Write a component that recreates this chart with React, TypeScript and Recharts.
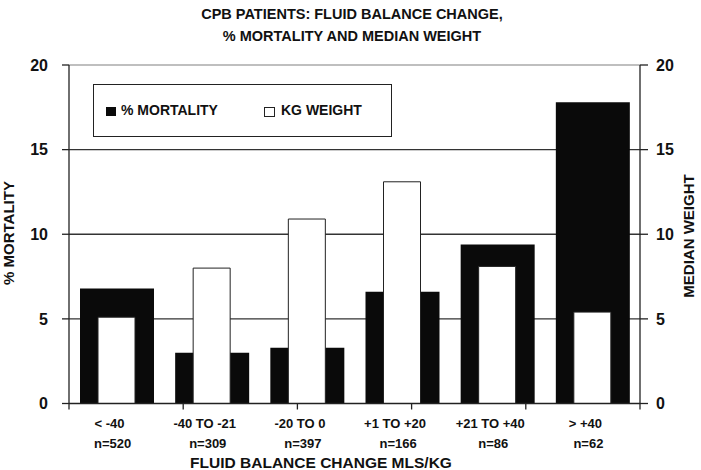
import React from 'react';
import { ComposedChart, Bar, XAxis, YAxis, CartesianGrid } from 'recharts';

const categories = ['< -40', '-40 TO -21', '-20 TO 0', '+1 TO +20', '+21 TO +40', '> +40'];
const counts = ['n=520', 'n=309', 'n=397', 'n=166', 'n=86', 'n=62'];
const mortality = [6.8, 3.0, 3.3, 6.6, 9.4, 17.8];
const weight = [5.1, 8.0, 10.9, 13.1, 8.1, 5.4];
const yTicks = [0, 5, 10, 15, 20];
const boundaryTicks = [0, 1, 2, 3, 4, 5, 6];

const data = categories.map((c, i) => ({ cat: c, n: counts[i], mortality: mortality[i], weight: weight[i] }));

const FONT = '"Liberation Sans", Arial, sans-serif';

const XTick = (props: any) => {
  const { x, y, payload, index } = props;
  return (
    <g>
      <text x={x - 7} y={y + 23} textAnchor="middle" fontFamily={FONT} fontWeight="bold" fontSize={13} fill="#111">
        {payload.value}
      </text>
      <text x={x - 4} y={y + 43} textAnchor="middle" fontFamily={FONT} fontWeight="bold" fontSize={13} fill="#111">
        {counts[index]}
      </text>
    </g>
  );
};

const BoundaryTick = (props: any) => {
  const { x, y } = props;
  return <line x1={x} x2={x} y1={y - 2} y2={y + 4} stroke="#222" strokeWidth={1.3} />;
};

export default function App() {
  const tickStyle = { fontFamily: FONT, fontWeight: 'bold' as const, fontSize: 16, fill: '#111' };
  return (
    <div style={{ position: 'absolute', left: 0, top: 0, width: 701, height: 470, background: '#fff', fontFamily: FONT }}>
      <div style={{ position: 'absolute', left: 0, top: 3, width: 704, textAlign: 'center', fontWeight: 'bold', fontSize: 14.5, lineHeight: '22px', color: '#111' }}>
        <div>CPB PATIENTS: FLUID BALANCE CHANGE,</div>
        <div>% MORTALITY AND MEDIAN WEIGHT</div>
      </div>
      <ComposedChart
        width={701}
        height={470}
        data={data}
        margin={{ top: 65, right: 0, bottom: 0, left: 0 }}
        barGap={0}
      >
        <CartesianGrid vertical={false} horizontalValues={[5, 10, 15]} stroke="#333" strokeWidth={1.3} />
        <CartesianGrid vertical={false} horizontalValues={[20]} stroke="#aaa" strokeWidth={1.3} />
        <XAxis
          type="number"
          domain={[0, 6]}
          ticks={boundaryTicks}
          height={1}
          axisLine={{ stroke: '#222', strokeWidth: 1.3 }}
          tickLine={false}
          tickSize={0}
          tickMargin={2}
          tick={BoundaryTick}
          interval={0}
          allowDataOverflow
        />
        <XAxis
          xAxisId="a"
          dataKey="cat"
          height={65.5}
          axisLine={false}
          tickLine={false}
          tickSize={0}
          tickMargin={0}
          tick={XTick}
          interval={0}
        />
        <XAxis xAxisId="b" dataKey="cat" hide />
        <YAxis
          width={69}
          domain={[0, 20]}
          ticks={yTicks}
          axisLine={{ stroke: '#222', strokeWidth: 1.3 }}
          tickLine={{ stroke: '#222', strokeWidth: 1.3 }}
          tickSize={7}
          tickMargin={14}
          tick={tickStyle}
          interval={0}
        />
        <YAxis
          yAxisId="r"
          orientation="right"
          width={61}
          domain={[0, 20]}
          ticks={yTicks}
          axisLine={{ stroke: '#222', strokeWidth: 1.3 }}
          tickLine={{ stroke: '#222', strokeWidth: 1.3 }}
          tickSize={8}
          tickMargin={8}
          tick={tickStyle}
          interval={0}
        />
        <Bar dataKey="mortality" xAxisId="a" fill="#0a0a0a" barSize={74} isAnimationActive={false} />
        <Bar dataKey="weight" xAxisId="b" yAxisId="r" fill="#fff" stroke="#222" strokeWidth={1} barSize={37} isAnimationActive={false} />
      </ComposedChart>
      <div style={{ position: 'absolute', left: 93, top: 84, width: 297, height: 51, border: '1.5px solid #222', boxSizing: 'content-box', fontWeight: 'bold', fontSize: 14, color: '#111' }}>
        <div style={{ position: 'absolute', left: 12, top: 22, width: 10, height: 9, background: '#0a0a0a' }} />
        <div style={{ position: 'absolute', left: 27, top: 16, lineHeight: '18px' }}>% MORTALITY</div>
        <div style={{ position: 'absolute', left: 170, top: 22, width: 9, height: 8, border: '1px solid #222', background: '#fff' }} />
        <div style={{ position: 'absolute', left: 187, top: 16, lineHeight: '18px' }}>KG WEIGHT</div>
      </div>
      <div style={{ position: 'absolute', left: 9, top: 233, width: 0, height: 0 }}>
        <div style={{ position: 'absolute', transform: 'translate(-50%, -50%) rotate(-90deg)', whiteSpace: 'nowrap', fontWeight: 'bold', fontSize: 15, color: '#111', lineHeight: '18px' }}>
          % MORTALITY
        </div>
      </div>
      <div style={{ position: 'absolute', left: 689, top: 236, width: 0, height: 0 }}>
        <div style={{ position: 'absolute', transform: 'translate(-50%, -50%) rotate(-90deg)', whiteSpace: 'nowrap', fontWeight: 'bold', fontSize: 15, color: '#111', lineHeight: '18px' }}>
          MEDIAN WEIGHT
        </div>
      </div>
      <div style={{ position: 'absolute', left: 321, top: 463, width: 0, height: 0 }}>
        <div style={{ position: 'absolute', transform: 'translate(-50%, -50%)', whiteSpace: 'nowrap', fontWeight: 'bold', fontSize: 15.5, color: '#111', lineHeight: '18px' }}>
          FLUID BALANCE CHANGE MLS/KG
        </div>
      </div>
    </div>
  );
}
